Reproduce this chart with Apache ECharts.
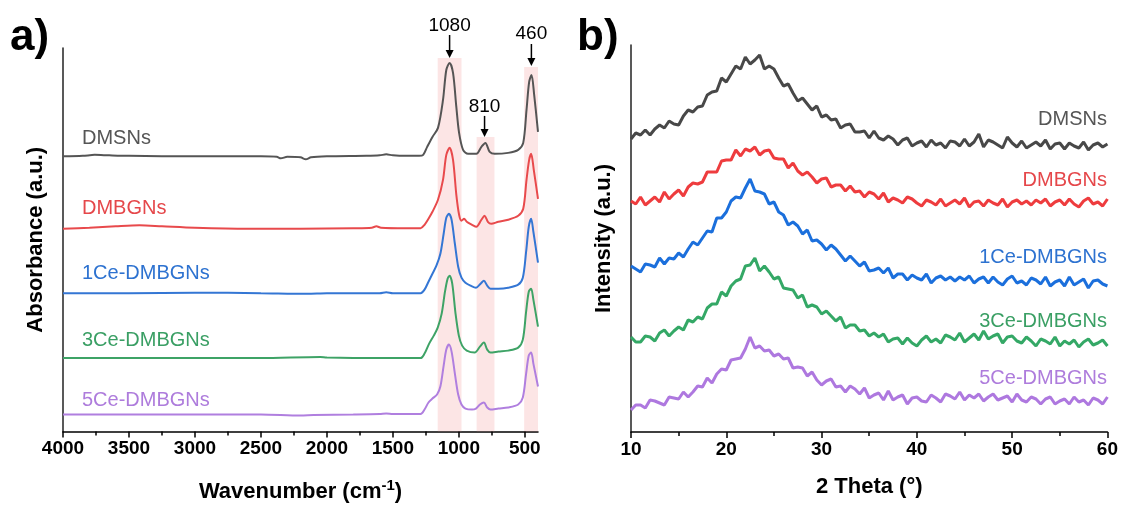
<!DOCTYPE html>
<html>
<head>
<meta charset="utf-8">
<script src="https://cdn.jsdelivr.net/npm/echarts@6/dist/echarts.min.js"></script>
<style>
html, body { margin: 0; padding: 0; background: #fff; }
#main { width: 1121px; height: 508px; }
</style>
</head>
<body>
<div id="main"></div>
<script>
// series names (same order in both panels)
var names = ['DMSNs', 'DMBGNs', '1Ce-DMBGNs', '3Ce-DMBGNs', '5Ce-DMBGNs'];

// a) FTIR, [wavenumber, absorbance (a.u., offset stacked)]
var ftirDMSNs = [[4000, 275.5], [3850, 276], [3760, 277], [3650, 276.5], [3500, 276], [3000, 275.5], [2500, 275.5],
    [2380, 275], [2350, 273.5], [2300, 275], [2200, 274.5], [2160, 272.5], [2120, 274.5], [2000, 275.5], [1700, 276],
    [1600, 276.5], [1550, 277.5], [1500, 276.5], [1400, 276], [1300, 276], [1270, 277], [1240, 285], [1200, 295],
    [1158, 304], [1120, 332], [1095, 362], [1070, 369], [1044, 359], [1019, 325], [998, 299], [968, 282], [930, 278],
    [867, 278], [829, 285], [799, 289], [766, 280], [728, 278], [626, 279], [550, 282], [512, 289], [487, 322],
    [467, 350], [449, 357], [429, 337], [400, 300]];
var ftirDMBGNs = [[4000, 203], [3800, 204], [3600, 205.5], [3420, 206.5], [3250, 205.5], [3000, 204], [2600, 203],
    [2200, 203], [1800, 203.5], [1660, 204], [1625, 205.5], [1590, 204], [1400, 203.5], [1290, 203.5], [1260, 207],
    [1230, 213], [1200, 220], [1158, 232], [1120, 252], [1095, 277], [1070, 284], [1044, 272], [1019, 237], [998, 217],
    [980, 211], [960, 213], [940, 210], [900, 207], [867, 205], [829, 212], [805, 216], [780, 210], [755, 208],
    [700, 210], [626, 212], [550, 216], [512, 223], [487, 252], [467, 272], [452, 278], [432, 262], [400, 233]];
var ftir1Ce = [[4000, 138.5], [3500, 138.5], [3000, 139], [2500, 138.5], [2150, 138], [2000, 138.5], [1600, 138.5],
    [1550, 139.5], [1500, 138.5], [1290, 138.5], [1260, 142], [1230, 150], [1200, 158], [1170, 166], [1140, 178],
    [1115, 198], [1095, 214], [1075, 218], [1055, 212], [1030, 188], [1005, 165], [980, 154], [950, 149], [910, 146],
    [870, 144], [835, 148], [810, 151], [785, 146], [760, 143], [700, 143], [626, 144], [550, 147], [515, 154],
    [490, 180], [470, 205], [452, 213], [435, 200], [400, 169]];
var ftir3Ce = [[4000, 73.5], [3500, 73.5], [3000, 73.5], [2500, 73.5], [2050, 74.5], [2000, 74], [1600, 73.5],
    [1290, 73.5], [1260, 78], [1225, 88], [1190, 96], [1160, 104], [1130, 118], [1105, 140], [1085, 153], [1070, 156],
    [1050, 148], [1025, 118], [1000, 96], [975, 86], [940, 81], [880, 79], [840, 85], [810, 89], [785, 82], [760, 79],
    [700, 80], [626, 81], [550, 84], [515, 92], [490, 120], [470, 140], [452, 143], [435, 132], [400, 105]];
var ftir5Ce = [[4000, 17], [3500, 17], [3000, 17], [2500, 17], [2200, 16], [2100, 16.5], [1800, 17], [1600, 17.5],
    [1550, 18], [1500, 17.5], [1290, 17.5], [1260, 22], [1230, 29], [1200, 33], [1165, 37], [1140, 45], [1115, 66],
    [1095, 82], [1075, 87], [1055, 80], [1030, 58], [1005, 37], [980, 27], [950, 23], [900, 22], [870, 23], [840, 27],
    [810, 29], [785, 24], [760, 22], [700, 23], [626, 24], [550, 27], [515, 34], [490, 58], [470, 76], [452, 79],
    [435, 68], [400, 45]];

// highlighted bands [from, to, top] and peak marks
var bands = [[1160, 980, 374], [865, 730, 295], [505, 400, 365]];
var peakPos = [1070, 805, 450];
var peakText = ['1080', '810', '460'];
var peakTextY = [406, 325, 398];
var peakArrow = [[397, 374], [316, 295], [388, 366]];

// wavenumber ticks
var wnMajor = [4000, 3500, 3000, 2500, 2000, 1500, 1000, 500];
var wnMinor = [3750, 3250, 2750, 2250, 1750, 1250, 750];

// b) XRD, 2 theta grid
var theta = [10, 10.5, 11, 11.5, 12, 12.5, 13, 13.5, 14, 14.5, 15, 15.5, 16, 16.5, 17, 17.5, 18, 18.5, 19, 19.5,
    20, 20.5, 21, 21.5, 22, 22.5, 23, 23.5, 24, 24.5, 25, 25.5, 26, 26.5, 27, 27.5, 28, 28.5, 29, 29.5,
    30, 30.5, 31, 31.5, 32, 32.5, 33, 33.5, 34, 34.5, 35, 35.5, 36, 36.5, 37, 37.5, 38, 38.5, 39, 39.5,
    40, 40.5, 41, 41.5, 42, 42.5, 43, 43.5, 44, 44.5, 45, 45.5, 46, 46.5, 47, 47.5, 48, 48.5, 49, 49.5,
    50, 50.5, 51, 51.5, 52, 52.5, 53, 53.5, 54, 54.5, 55, 55.5, 56, 56.5, 57, 57.5, 58, 58.5, 59, 59.5, 60];
var xrdDMSNs = [293, 299, 297, 302, 297, 303, 307, 304, 311, 308, 307, 316, 322, 320, 325, 326, 337, 340, 341, 354,
    350, 358, 366, 363, 375, 368, 372, 377, 363, 366, 363, 354, 346, 348, 339, 331, 334, 328, 322, 326,
    315, 317, 312, 313, 304, 307, 308, 300, 300, 301, 294, 301, 294, 292, 296, 293, 287, 292, 294, 286,
    289, 291, 285, 292, 287, 289, 284, 291, 290, 286, 293, 286, 290, 298, 285, 292, 290, 287, 284, 295,
    289, 285, 291, 284, 287, 290, 286, 292, 283, 288, 289, 283, 289, 286, 284, 290, 282, 287, 289, 285, 288];
var xrdDMBGNs = [231, 228, 235, 227, 231, 235, 230, 240, 233, 238, 242, 236, 245, 249, 248, 250, 260, 260, 260, 271,
    272, 272, 282, 276, 283, 281, 285, 277, 281, 282, 274, 273, 273, 264, 269, 261, 257, 260, 255, 249,
    253, 254, 245, 247, 247, 241, 246, 240, 241, 235, 240, 238, 233, 239, 230, 234, 232, 229, 235, 233,
    229, 226, 232, 230, 227, 233, 226, 229, 232, 228, 234, 225, 230, 231, 226, 232, 229, 227, 233, 225,
    230, 232, 228, 231, 227, 232, 229, 233, 226, 230, 232, 227, 233, 228, 225, 231, 234, 228, 230, 226, 233];
var xrd1Ce = [166, 163, 160, 168, 167, 165, 174, 168, 174, 173, 179, 175, 183, 190, 187, 194, 201, 200, 214, 214,
    220, 231, 235, 234, 244, 253, 241, 240, 238, 228, 230, 220, 217, 207, 210, 206, 198, 202, 191, 192,
    188, 182, 187, 183, 177, 171, 176, 171, 166, 170, 161, 162, 164, 159, 164, 154, 158, 158, 152, 157,
    154, 152, 158, 149, 154, 156, 152, 155, 151, 155, 152, 156, 149, 153, 155, 149, 155, 150, 147, 153,
    156, 149, 151, 147, 154, 152, 148, 155, 146, 150, 152, 146, 155, 147, 150, 153, 144, 151, 152, 148, 146];
var xrd3Ce = [95, 90, 90, 96, 95, 91, 99, 102, 96, 101, 105, 102, 112, 110, 115, 113, 124, 128, 128, 140,
    136, 146, 151, 153, 166, 167, 174, 161, 166, 160, 153, 155, 144, 143, 142, 134, 137, 125, 127, 125,
    118, 121, 116, 111, 115, 104, 107, 107, 101, 102, 96, 99, 95, 98, 90, 93, 94, 88, 94, 89,
    86, 92, 96, 90, 93, 89, 97, 95, 92, 99, 90, 94, 98, 92, 101, 93, 96, 98, 89, 95,
    96, 91, 89, 95, 91, 86, 93, 91, 88, 95, 86, 91, 88, 92, 85, 90, 93, 87, 89, 92, 86];
var xrd5Ce = [22, 27, 27, 24, 32, 31, 29, 27, 35, 34, 33, 40, 35, 40, 46, 45, 54, 49, 58, 63,
    62, 72, 73, 74, 83, 95, 84, 86, 81, 82, 76, 78, 73, 74, 64, 65, 64, 56, 60, 52,
    47, 51, 53, 45, 46, 40, 46, 43, 38, 44, 34, 37, 39, 32, 41, 32, 35, 37, 28, 34,
    35, 31, 30, 37, 34, 30, 38, 36, 33, 40, 32, 37, 34, 38, 31, 35, 38, 32, 34, 36,
    30, 38, 32, 30, 35, 33, 28, 33, 35, 28, 31, 33, 28, 35, 30, 32, 27, 34, 32, 28, 35];

var ftirColor = ['#555555', '#e84a4c', '#3476d4', '#3ea366', '#b07fdf'];
var xrdColor = ['#484848', '#ee3c3e', '#1b6fdc', '#34a866', '#ae78df'];
var labelColor = ['#555555', '#e5474a', '#2d72d0', '#3a9f64', '#ae7cdc'];

var FONT = 'Arial, "Liberation Sans", Helvetica, sans-serif';

var ftirData = [ftirDMSNs, ftirDMBGNs, ftir1Ce, ftir3Ce, ftir5Ce];
var xrdData = [xrdDMSNs, xrdDMBGNs, xrd1Ce, xrd3Ce, xrd5Ce];

var chart = echarts.init(document.getElementById('main'));

var tickLabel = {fontSize: 19, fontWeight: 'bold', color: '#000', fontFamily: FONT, margin: 8,
    formatter: function (v) { return String(v); }};
var axisTitle = {fontSize: 22, fontWeight: 'bold', color: '#000', fontFamily: FONT};
var blackLine = {color: '#000', width: 1.5};

var series = [];
// 左：红外
for (var i = 0; i < 5; i++) {
    series.push({
        name: names[i],
        type: 'line',
        xAxisIndex: 0,
        yAxisIndex: 0,
        showSymbol: false,
        smooth: 0.3,
        z: 2,
        lineStyle: {color: ftirColor[i], width: 2},
        data: ftirData[i]
    });
}
// 粉色标记区域 (drawn over the lines, translucent)
series.push({
    type: 'line',
    xAxisIndex: 0,
    yAxisIndex: 0,
    data: [],
    z: 5,
    markArea: {
        silent: true,
        itemStyle: {color: 'rgba(245,150,150,0.25)'},
        data: bands.map(function (b) {
            return [{xAxis: b[0], yAxis: 0}, {xAxis: b[1], yAxis: b[2]}];
        })
    }
});
// 右：XRD
for (var j = 0; j < 5; j++) {
    series.push({
        name: names[j],
        type: 'line',
        xAxisIndex: 2,
        yAxisIndex: 1,
        showSymbol: false,
        lineStyle: {color: xrdColor[j], width: 3},
        data: theta.map(function (t, k) { return [t, xrdData[j][k]]; })
    });
}

chart.setOption({
    animation: false,
    backgroundColor: '#fff',
    grid: [
        {left: 63, top: 48, width: 475, height: 384},
        {left: 631, top: 45, width: 477, height: 387}
    ],
    xAxis: [
        {
            gridIndex: 0, type: 'value', position: 'bottom', min: 400, max: 4000, inverse: true,
            axisLine: {onZero: false, lineStyle: blackLine},
            axisTick: {customValues: wnMajor, length: 6, lineStyle: blackLine},
            axisLabel: Object.assign({customValues: wnMajor}, tickLabel),
            splitLine: {show: false},
            name: 'Wavenumber (cm{sup|-1})',
            nameLocation: 'middle',
            nameGap: 47,
            nameTextStyle: Object.assign({
                rich: {sup: {fontSize: 15, fontWeight: 'bold', color: '#000', fontFamily: FONT, padding: [0, 0, 12, 0]}}
            }, axisTitle)
        },
        {
            gridIndex: 0, type: 'value', position: 'bottom', min: 400, max: 4000, inverse: true,
            axisLine: {show: false, onZero: false},
            axisTick: {customValues: wnMinor, length: 4, lineStyle: blackLine},
            axisLabel: {show: false},
            splitLine: {show: false}
        },
        {
            gridIndex: 1, type: 'value', position: 'bottom', min: 10, max: 60, interval: 10,
            axisLine: {onZero: false, lineStyle: blackLine},
            axisTick: {length: 6, lineStyle: blackLine},
            minorTick: {show: true, splitNumber: 2, length: 4, lineStyle: blackLine},
            axisLabel: tickLabel,
            splitLine: {show: false},
            name: '2 Theta (°)',
            nameLocation: 'middle',
            nameGap: 44,
            nameTextStyle: axisTitle
        }
    ],
    yAxis: [
        {
            gridIndex: 0, type: 'value', min: 0, max: 384,
            axisLine: {show: true, onZero: false, lineStyle: {color: '#222', width: 1.5}},
            axisTick: {show: false}, axisLabel: {show: false}, splitLine: {show: false},
            name: 'Absorbance (a.u.)', nameLocation: 'middle', nameGap: 16, nameTextStyle: axisTitle
        },
        {
            gridIndex: 1, type: 'value', min: 0, max: 387,
            axisLine: {show: true, onZero: false, lineStyle: {color: '#222', width: 1.5}},
            axisTick: {show: false}, axisLabel: {show: false}, splitLine: {show: false},
            name: 'Intensity (a.u.)', nameLocation: 'middle', nameGap: 16, nameTextStyle: axisTitle
        }
    ],
    series: series
});

// 文字与箭头
var g = [];
g.push({type: 'text', x: 10, y: 38, style: {text: 'a)', font: 'bold 44px ' + FONT, fill: '#000', verticalAlign: 'middle'}});
g.push({type: 'text', x: 577, y: 38, style: {text: 'b)', font: 'bold 44px ' + FONT, fill: '#000', verticalAlign: 'middle'}});

var leftY = [138.5, 208, 273.5, 340.5, 400];
var rightY = [119, 180, 257, 321, 378.5];
for (var n = 0; n < 5; n++) {
    g.push({type: 'text', x: 82, y: leftY[n], style: {text: names[n], font: '20px ' + FONT, fill: labelColor[n], verticalAlign: 'middle'}});
    g.push({type: 'text', x: 1107, y: rightY[n], style: {text: names[n], font: '20px ' + FONT, fill: labelColor[n], align: 'right', verticalAlign: 'middle'}});
}

function toPx(x, y) {
    return chart.convertToPixel({xAxisIndex: 0, yAxisIndex: 0}, [x, y]);
}
for (var p = 0; p < peakPos.length; p++) {
    var t = toPx(peakPos[p], peakTextY[p]);
    var a0 = toPx(peakPos[p], peakArrow[p][0]);
    var a1 = toPx(peakPos[p], peakArrow[p][1]);
    g.push({type: 'text', x: t[0], y: t[1], style: {text: peakText[p], font: '19px ' + FONT, fill: '#000', align: 'center', verticalAlign: 'middle'}});
    g.push({type: 'line', shape: {x1: a0[0], y1: a0[1], x2: a1[0], y2: a1[1] - 6}, style: {stroke: '#000', lineWidth: 1.5}});
    g.push({type: 'polygon', shape: {points: [[a1[0] - 4, a1[1] - 8], [a1[0] + 4, a1[1] - 8], [a1[0], a1[1]]]}, style: {fill: '#000'}});
}
chart.setOption({graphic: g});
</script>
</body>
</html>
